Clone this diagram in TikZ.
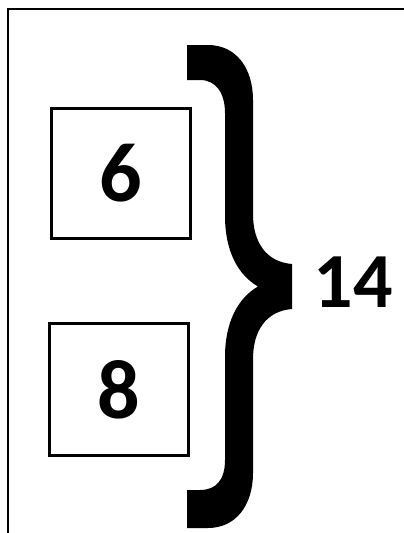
\documentclass[tikz,border=0pt]{standalone}
\usepackage{fontspec}
\setmainfont{Carlito}
\tikzset{
  numbox/.style={draw=black, line width=3pt, fill=white, minimum width=139pt,
    inner sep=0pt, font=\fontsize{84}{84}\selectfont\bfseries},
  sumlabel/.style={inner sep=0pt, font=\fontsize{78}{78}\selectfont\bfseries},
  frameline/.style={draw=black, line width=2.5pt},
  bracefill/.style={fill=black, draw=none}
}
\begin{document}
\begin{tikzpicture}[x=1pt, y=-1pt]
\useasboundingbox (0,0) rectangle (404,533);
\fill[white] (0,0) rectangle (404,533);
% frame (left and top edges visible)
\draw[frameline] (8,533) -- (8,9) -- (404,9);
% boxes
\node[numbox, minimum height=130pt] (box6) at (121,173.5) {6};
\node[numbox, minimum height=132pt] (box8) at (119,389.5) {8};
% curly brace
\fill[bracefill]
  (187,45) -- (208,45) .. controls (236,45) and (253,68) .. (253,100)
  -- (253,214) .. controls (253,242) and (266,262) .. (292,264)
  -- (292,309) .. controls (266,311) and (253,331) .. (253,359)
  -- (253,473) .. controls (253,505) and (236,528) .. (208,528)
  -- (187,528) -- (187,490) -- (200,490)
  .. controls (216,490) and (225,480) .. (225,460)
  -- (225,357) .. controls (225,322) and (238,298) .. (258,286.5)
  .. controls (238,275) and (225,251) .. (225,216)
  -- (225,113) .. controls (225,93) and (216,80) .. (200,80)
  -- (187,80) -- cycle;
% sum
\node[sumlabel] (sum) at (353.5,282.5) {14};
\end{tikzpicture}
\end{document}
